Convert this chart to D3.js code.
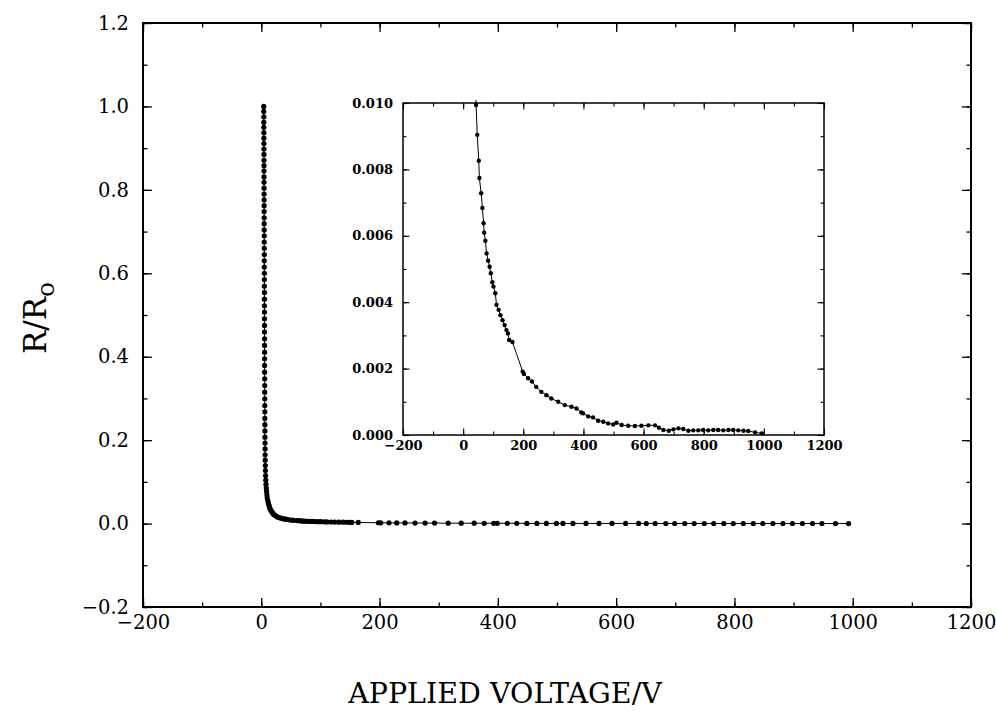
<!DOCTYPE html>
<html>
<head>
<meta charset="utf-8">
<script src="https://cdn.jsdelivr.net/npm/d3@7"></script>
<style>
  html, body { margin: 0; padding: 0; background: #fff; }
  svg { display: block; }
</style>
</head>
<body>
<svg id="chart" width="996" height="712"></svg>
<script>
// ---------------- data ----------------
const voltage = [
  4.2,4.2,4.3,4.3,4.3,4.4,4.4,4.4,4.5,4.5,
  4.5,4.6,4.6,4.6,4.7,4.7,4.7,4.8,4.8,4.8,
  4.9,4.9,4.9,5.0,5.0,5.0,5.1,5.1,5.1,5.2,
  5.2,5.2,5.3,5.3,5.3,5.4,5.4,5.4,5.5,5.5,
  5.5,5.6,5.6,5.6,5.7,5.7,5.8,5.8,5.9,5.9,
  6.0,6.0,6.1,6.1,6.2,6.3,6.4,6.5,6.6,6.8,
  7.0,7.3,7.6,8.0,8.5,9.0,9.5,10,11,12,
  13,14,15,16.5,18,19.5,21,23,25,27,
  30,33,36,39,41,
  43,47,52,54,60,64,68,70,74,78,
  83,88,92,97,101,107,111,118,124,131,
  138,144,149,153,164,198,202,216,229,243,
  260,277,293,316,338,360,377,393,399,416,
  432,449,466,482,499,510,527,549,571,593,
  616,638,651,666,684,699,716,732,749,765,
  782,798,815,832,848,865,882,898,915,932,
  948,971,993
];
const ratio = [
  1.000,0.988,0.975,0.962,0.950,0.937,0.924,0.911,0.898,0.885,
  0.871,0.858,0.845,0.831,0.818,0.804,0.790,0.776,0.762,0.748,
  0.733,0.719,0.704,0.690,0.675,0.660,0.645,0.630,0.615,0.600,
  0.585,0.569,0.554,0.538,0.522,0.507,0.491,0.475,0.459,0.443,
  0.427,0.411,0.395,0.379,0.363,0.347,0.331,0.315,0.299,0.283,
  0.268,0.252,0.237,0.222,0.207,0.193,0.179,0.165,0.152,0.139,
  0.127,0.115,0.104,0.094,0.085,0.077,0.069,0.062,0.055,0.049,
  0.044,0.039,0.035,0.031,0.028,0.025,0.022,0.020,0.018,0.016,
  0.0145,0.013,0.012,0.011,0.0105,
  0.00994,0.00904,0.00826,0.00774,0.00728,0.00684,0.00638,0.00609,0.00585,0.00547,
  0.00525,0.00507,0.00487,0.00460,0.00447,0.00427,0.00392,0.00377,0.00361,0.00346,
  0.00331,0.00316,0.00306,0.00286,0.00280,0.00191,0.00184,0.00171,0.00161,0.00145,
  0.00130,0.00120,0.00110,0.00100,0.00090,0.00085,0.00080,0.00068,0.00065,0.00056,
  0.00053,0.00043,0.00040,0.00035,0.00032,0.00037,0.00030,0.00028,0.00027,0.00028,
  0.00029,0.00029,0.00022,0.00015,0.00013,0.00017,0.00020,0.00018,0.00013,0.00014,
  0.00014,0.00015,0.00014,0.00015,0.00015,0.00014,0.00015,0.00015,0.00014,0.00013,
  0.00012,0.00008,0.00005
];

const mainXTicks = [-200, 0, 200, 400, 600, 800, 1000, 1200];
const mainYTicks = [-0.2, 0.0, 0.2, 0.4, 0.6, 0.8, 1.0, 1.2];
const insetXTicks = [-200, 0, 200, 400, 600, 800, 1000, 1200];
const insetYTicks = [0.000, 0.002, 0.004, 0.006, 0.008, 0.010];
const xTitle = "APPLIED VOLTAGE/V";

const data = voltage.map((v, i) => ({ v: v, r: ratio[i] }));

// ---------------- drawing ----------------
const svg = d3.select("#chart");
const minus = s => s.replace("-", "\u2212");

function panel(opt) {
  const x = d3.scaleLinear().domain(opt.xDomain).range(opt.xRange);
  const y = d3.scaleLinear().domain(opt.yDomain).range(opt.yRange);
  const g = svg.append("g");
  const [x0, x1] = opt.xRange, [y0, y1] = [opt.yRange[1], opt.yRange[0]];
  const w = x1 - x0, h = y1 - y0;

  g.append("rect").attr("x", x0).attr("y", y0).attr("width", w).attr("height", h)
    .attr("fill", "#fff");

  const minorX = d3.range(opt.xDomain[0], opt.xDomain[1] + 1e-9, opt.xMinor);
  const minorY = d3.range(opt.yDomain[0], opt.yDomain[1] + opt.yMinor / 2, opt.yMinor);

  const styleAxis = sel => {
    sel.select(".domain").remove();
    sel.selectAll("line").attr("stroke", "#000").attr("stroke-width", opt.tickW);
  };

  // minor ticks (all four sides)
  g.append("g").attr("transform", `translate(0,${y1})`)
    .call(d3.axisBottom(x).tickValues(minorX).tickSizeInner(-opt.minorLen).tickSizeOuter(0).tickFormat(""))
    .call(styleAxis);
  g.append("g").attr("transform", `translate(0,${y0})`)
    .call(d3.axisTop(x).tickValues(minorX).tickSizeInner(-opt.minorLen).tickSizeOuter(0).tickFormat(""))
    .call(styleAxis);
  g.append("g").attr("transform", `translate(${x0},0)`)
    .call(d3.axisLeft(y).tickValues(minorY).tickSizeInner(-opt.minorLen).tickSizeOuter(0).tickFormat(""))
    .call(styleAxis);
  g.append("g").attr("transform", `translate(${x1},0)`)
    .call(d3.axisRight(y).tickValues(minorY).tickSizeInner(-opt.minorLen).tickSizeOuter(0).tickFormat(""))
    .call(styleAxis);

  // major ticks with labels
  const xb = g.append("g").attr("transform", `translate(0,${y1})`)
    .call(d3.axisBottom(x).tickValues(opt.xTicks).tickSizeInner(-opt.majorLen).tickSizeOuter(0)
      .tickPadding(opt.xPad).tickFormat(d => minus(d3.format("d")(d))))
    .call(styleAxis);
  xb.selectAll("text").attr("font-family", opt.font).attr("font-size", opt.fontSize)
    .attr("font-weight", opt.fontWeight).attr("fill", "#000");
  g.append("g").attr("transform", `translate(0,${y0})`)
    .call(d3.axisTop(x).tickValues(opt.xTicks).tickSizeInner(-opt.majorLen).tickSizeOuter(0).tickFormat(""))
    .call(styleAxis);
  const yl = g.append("g").attr("transform", `translate(${x0},0)`)
    .call(d3.axisLeft(y).tickValues(opt.yTicks).tickSizeInner(-opt.majorLen).tickSizeOuter(0)
      .tickPadding(opt.yPad).tickFormat(d => minus(d3.format(opt.yFmt)(d))))
    .call(styleAxis);
  yl.selectAll("text").attr("font-family", opt.font).attr("font-size", opt.fontSize)
    .attr("font-weight", opt.fontWeight).attr("fill", "#000");
  g.append("g").attr("transform", `translate(${x1},0)`)
    .call(d3.axisRight(y).tickValues(opt.yTicks).tickSizeInner(-opt.majorLen).tickSizeOuter(0).tickFormat(""))
    .call(styleAxis);

  // data
  const clipId = opt.id + "-clip";
  g.append("clipPath").attr("id", clipId).append("rect")
    .attr("x", x0).attr("y", y0 - 3).attr("width", w).attr("height", h + 3);
  const dg = g.append("g").attr("clip-path", `url(#${clipId})`);
  const line = d3.line().x(d => x(d.v)).y(d => y(d.r));
  dg.append("path").datum(data).attr("d", line)
    .attr("fill", "none").attr("stroke", "#000").attr("stroke-width", 1);
  dg.selectAll("circle").data(data).join("circle")
    .attr("cx", d => x(d.v)).attr("cy", d => y(d.r)).attr("r", opt.r).attr("fill", "#000");

  // frame
  g.append("rect").attr("x", x0).attr("y", y0).attr("width", w).attr("height", h)
    .attr("fill", "none").attr("stroke", "#000").attr("stroke-width", opt.frameW);
  return g;
}

// main plot
panel({
  id: "main",
  xDomain: [-200, 1200], xRange: [143, 971],
  yDomain: [-0.2, 1.2], yRange: [607, 23],
  xTicks: mainXTicks, yTicks: mainYTicks, xMinor: 100, yMinor: 0.1,
  majorLen: 9, minorLen: 4.5, tickW: 1.3, frameW: 2,
  xPad: 8, yPad: 14, yFmt: ".1f",
  font: "DejaVu Serif", fontSize: 19.5, fontWeight: "normal",
  r: 2.6
});

// inset plot
panel({
  id: "inset",
  xDomain: [-200, 1200], xRange: [403, 824],
  yDomain: [0, 0.01], yRange: [435, 103],
  xTicks: insetXTicks, yTicks: insetYTicks, xMinor: 100, yMinor: 0.001,
  majorLen: 6.5, minorLen: 3.5, tickW: 1.1, frameW: 1.5,
  xPad: 6, yPad: 10, yFmt: ".3f",
  font: "DejaVu Serif", fontSize: 13, fontWeight: "bold",
  r: 2.2
});

// axis titles
svg.append("text")
  .attr("x", 505).attr("y", 703)
  .attr("text-anchor", "middle")
  .attr("font-family", "DejaVu Serif").attr("font-size", 28.5)
  .attr("fill", "#000")
  .text(xTitle);

const yt = svg.append("text")
  .attr("transform", "translate(46,318) rotate(-90)")
  .attr("text-anchor", "middle")
  .attr("font-family", "DejaVu Serif").attr("font-size", 31)
  .attr("fill", "#000");
yt.append("tspan").text("R/R");
yt.append("tspan").attr("baseline-shift", "-30%").attr("font-size", 25).text("o");
</script>
</body>
</html>
